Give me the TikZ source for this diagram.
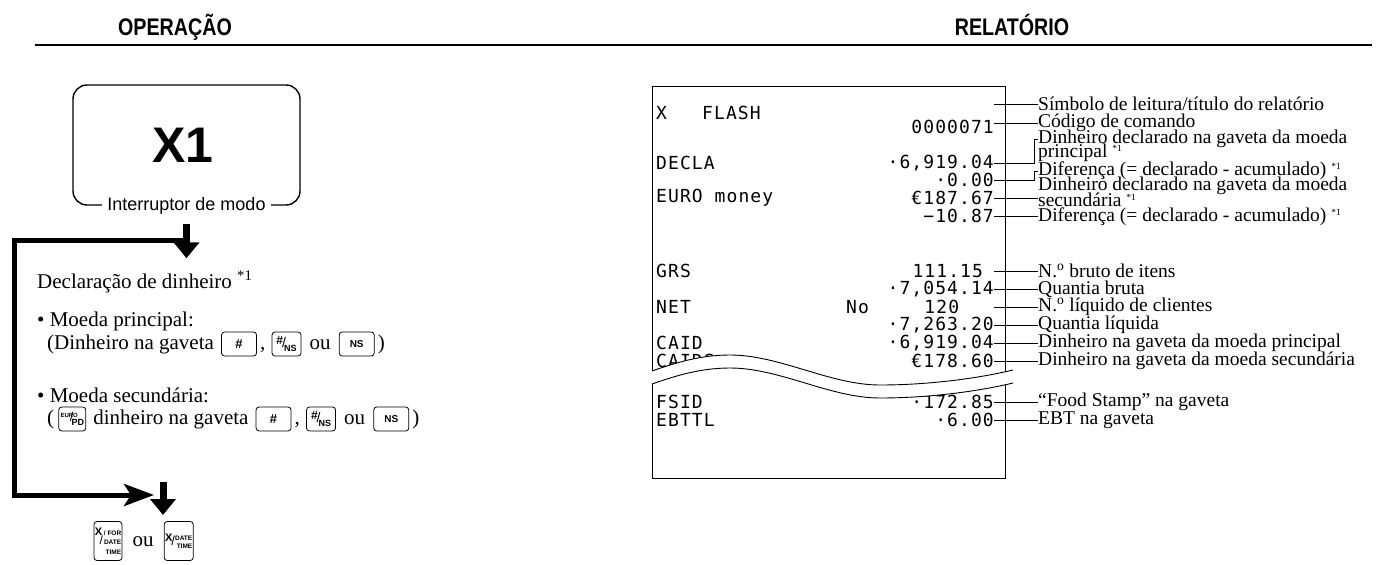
\documentclass[tikz,border=0pt]{standalone}
\usepackage{fontspec}
\setmainfont{Liberation Serif}
\setsansfont{Liberation Sans}
\newfontfamily\rcptfont[LetterSpace=6]{DejaVu Sans Mono}
\usetikzlibrary{arrows.meta, positioning, calc}

\newcommand{\stref}{\raisebox{6pt}{\fontsize{9.5}{9.5}\selectfont *1}}

\tikzset{
  hdr/.style={font=\sffamily\bfseries\fontsize{24}{24}\selectfont, inner sep=0pt, anchor=base},
  txt/.style={font=\fontsize{21}{21}\selectfont, inner sep=0pt, text height=15pt, text depth=4pt},
  keycap/.style={draw, rounded corners=3pt, line width=0.8pt, inner sep=0pt,
    minimum height=24pt, minimum width=35pt, font=\sffamily\bfseries\fontsize{9}{9}\selectfont},
  rcpt/.style={font=\rcptfont\fontsize{18}{18}\selectfont, inner sep=0pt},
  rval/.style={rcpt, anchor=east},
  rkey/.style={rcpt, anchor=west},
  note/.style={font=\fontsize{19.5}{13}\selectfont, inner sep=0pt, anchor=west},
  leader/.style={line width=0.6pt},
  bigarrow/.style={line width=7pt, -{Triangle[length=16pt, width=25pt]}},
  loopline/.style={line width=5pt, line join=miter},
}

\begin{document}
\begin{tikzpicture}[x=1pt, y=-1pt]
\useasboundingbox (0,0) rectangle (1377,565);

% headings
\node[hdr] (hop) at (175,35) {\scalebox{0.82}[1]{OPERAÇÃO}};
\node[hdr] (hrel) at (1012,35) {\scalebox{0.82}[1]{RELATÓRIO}};
\draw[line width=2pt] (35,45) -- (1372,45);

% mode switch
\node[draw, line width=1.4pt, rounded corners=14pt, minimum width=227pt, minimum height=120pt] (mbox) at (186.5,145) {};
\node[font=\sffamily\bfseries\fontsize{50}{50}\selectfont, inner sep=0pt] (mx1) at (183,145) {X1};
\node[fill=white, inner xsep=5pt, inner ysep=3pt, font=\sffamily\fontsize{18}{18}\selectfont] (mlbl) at (mbox.south) {Interruptor de modo};

% arrows and loop
\draw[bigarrow] ([yshift=-7pt]mlbl.south) -- ++(0,34);
\coordinate (lpa) at (186,240);
\coordinate (lpb) at (154,495);
\draw[loopline, -{Stealth[length=30pt, width=22pt, inset=7pt]}] (lpa) -- (14,240) |- (lpb);
\coordinate (a2s) at (163,482);
\draw[bigarrow] (a2s) -- ++(0,33);

% operation text
\node[txt, anchor=west] (decl) at (37,283) {Declaração de dinheiro \textsuperscript{*1}};
\node[txt, anchor=west] (mp) at (37,321) {• Moeda principal:};
\node[txt, anchor=west] (t1) at (47,344) {(Dinheiro na gaveta};
\node[keycap, right=7pt of t1] (k1) {\fontsize{13}{13}\selectfont\#};
\node[txt, right=3pt of k1] (c1) {,};
\node[keycap, minimum width=29pt, right=6pt of c1] (k2) {\raisebox{3pt}{\fontsize{12}{12}\selectfont\#}\kern-1pt{\fontsize{14}{14}\selectfont\mdseries/}\kern-2pt\raisebox{-4pt}{NS}};
\node[txt, right=8pt of k2] (o1) {ou};
\node[keycap, right=8pt of o1] (k3) {\fontsize{10}{10}\selectfont NS};
\node[txt, right=3pt of k3] (e1) {)};

\node[txt, anchor=west] (ms) at (37,397) {• Moeda secundária:};
\node[txt, anchor=west] (t2) at (47,419) {(};
\node[keycap, minimum width=27pt, right=4pt of t2] (k4) {\raisebox{4pt}{\fontsize{6}{6}\selectfont EURO}\kern-8pt{\fontsize{13}{13}\selectfont\mdseries/}\kern-2pt\raisebox{-4pt}{PD}};
\node[txt, right=7pt of k4] (t2b) {dinheiro na gaveta};
\node[keycap, right=7pt of t2b] (k5) {\fontsize{13}{13}\selectfont\#};
\node[txt, right=3pt of k5] (c2) {,};
\node[keycap, minimum width=29pt, right=6pt of c2] (k6) {\raisebox{3pt}{\fontsize{12}{12}\selectfont\#}\kern-1pt{\fontsize{14}{14}\selectfont\mdseries/}\kern-2pt\raisebox{-4pt}{NS}};
\node[txt, right=8pt of k6] (o2) {ou};
\node[keycap, right=8pt of o2] (k7) {\fontsize{10}{10}\selectfont NS};
\node[txt, right=3pt of k7] (e2) {)};

\node[keycap, minimum width=28pt, minimum height=39pt, align=right, font=\sffamily\bfseries\fontsize{6.5}{9.5}\selectfont] (kxf) at (108,541)
  {{\fontsize{11}{11}\selectfont X} / FOR\\{\fontsize{12}{12}\selectfont\mdseries/}\,DATE\\TIME};
\node[txt, right=10pt of kxf] (o3) {ou};
\node[keycap, minimum width=29pt, minimum height=39pt, font=\sffamily\bfseries\fontsize{6.5}{8}\selectfont, right=10pt of o3] (kxd)
  {\raisebox{5pt}{\fontsize{11}{11}\selectfont X}\kern-1pt\raisebox{1pt}{\fontsize{13}{13}\selectfont\mdseries/}\raisebox{-2pt}{\shortstack[r]{DATE\\TIME}}};

% receipt
\draw[line width=0.9pt] (652,372) -- (652,86) -- (1005,86) -- (1005,373);
\draw[line width=0.9pt] (652,384) -- (652,478) -- (1005,478) -- (1005,384);

\node[rkey] (r1) at (656,113) {X};
\node[rkey] (r1b) at (702,113) {FLASH};
\node[rval] (v2) at (994,127) {0000071};
\node[rkey] (r3) at (656,163) {DECLA};
\node[rval] (v3) at (994,163) {·6,919.04};
\node[rval] (v4) at (994,180) {·0.00};
\node[rkey] (r5) at (656,198) {EURO money};
\node[rval] (v5) at (994,198) {€187.67};
\node[rval] (v6) at (994,216) {−10.87};
\node[rkey] (r7) at (656,271) {GRS};
\node[rval] (v7) at (994,271) {111.15\phantom{0}};
\node[rval] (v8) at (994,289) {·7,054.14};
\node[rkey] (r9) at (656,307) {NET};
\node[rkey] (r9b) at (846,307) {No};
\node[rval] (v9) at (994,307) {120\phantom{000}};
\node[rval] (v10) at (994,325) {·7,263.20};
\node[rkey] (r11) at (656,343) {CAID};
\node[rval] (v11) at (994,343) {·6,919.04};
\node[rkey] (r12) at (656,361) {CAIDS};
\node[rval] (v12) at (994,361) {€178.60};
\node[rkey] (r13) at (656,402) {FSID};
\node[rval] (v13) at (994,402) {·172.85};
\node[rkey] (r14) at (656,420) {EBTTL};
\node[rval] (v14) at (994,420) {·6.00};

% tear
\fill[white] (652,371) .. controls (675,363) and (700,355) .. (730,355) .. controls (780,355) and (830,385) .. (880,385) .. controls (930,385) and (980,378) .. (1013,370)
  -- (1013,383) .. controls (980,391) and (930,398) .. (880,398) .. controls (830,398) and (780,368) .. (730,368) .. controls (700,368) and (675,376) .. (652,384) -- cycle;
\draw[line width=0.9pt] (652,371) .. controls (675,363) and (700,355) .. (730,355) .. controls (780,355) and (830,385) .. (880,385) .. controls (930,385) and (980,378) .. (1013,370);
\draw[line width=0.9pt] (652,384) .. controls (675,376) and (700,368) .. (730,368) .. controls (780,368) and (830,398) .. (880,398) .. controls (930,398) and (980,391) .. (1013,383);

% report notes
\node[note] (l1) at (1038,104) {Símbolo de leitura/título do relatório};
\node[note] (l2) at (1038,123) {Código de comando};
\node[note] (l3a) at (1038,139) {Dinheiro declarado na gaveta da moeda};
\node[note] (l3b) at (1038,153) {principal \stref};
\node[note] (l4) at (1038,171) {Diferença (= declarado - acumulado) \stref};
\node[note] (l5a) at (1038,186) {Dinheiro declarado na gaveta da moeda};
\node[note] (l5b) at (1038,200) {secundária \stref};
\node[note] (l6) at (1038,217) {Diferença (= declarado - acumulado) \stref};
\node[note] (l7) at (1038,271) {N.\textsuperscript{o} bruto de itens};
\node[note] (l8) at (1038,289) {Quantia bruta};
\node[note] (l9) at (1038,307) {N.\textsuperscript{o} líquido de clientes};
\node[note] (l10) at (1038,325) {Quantia líquida};
\node[note] (l11) at (1038,343) {Dinheiro na gaveta da moeda principal};
\node[note] (l12) at (1038,361) {Dinheiro na gaveta da moeda secundária};
\node[note] (l13) at (1038,402) {“Food Stamp” na gaveta};
\node[note] (l14) at (1038,420) {EBT na gaveta};

\draw[leader] (l1.west) -- ++(-44,0);
\draw[leader] (l2.west) -- (l2.west -| v2.east);
\draw[leader] (v3.east) -- ++(40,0) |- (l3a.west);
\draw[leader] (v4.east) -- ++(40,0) |- (l4.west);
\draw[leader] (v5.east) -- (v5.east -| l5a.west);
\draw[leader] (v6.east) -- (v6.east -| l6.west);
\draw[leader] (v7.east) -- (l7.west);
\draw[leader] (v8.east) -- (l8.west);
\draw[leader] (v9.east) -- (l9.west);
\draw[leader] (v10.east) -- (l10.west);
\draw[leader] (v11.east) -- (l11.west);
\draw[leader] (v12.east) -- (l12.west);
\draw[leader] (v13.east) -- (l13.west);
\draw[leader] (v14.east) -- (l14.west);
\end{tikzpicture}
\end{document}
